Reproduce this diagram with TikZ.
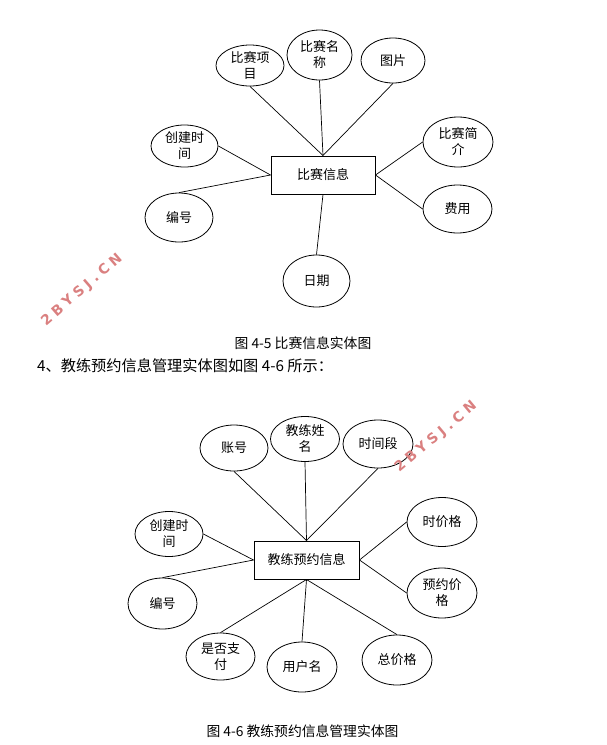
\documentclass[tikz,border=0pt]{standalone}
\usepackage{fontspec}
\newfontfamily\cjk{Noto Sans CJK SC}
\newfontfamily\wmfont[LetterSpace=30]{DejaVu Sans}
\usetikzlibrary{shapes.geometric}
\definecolor{wmred}{RGB}{218,128,128}
\tikzset{
 attr/.style={ellipse, draw=black, line width=.8pt, inner sep=0pt, align=center, font=\cjk\fontsize{13}{16}\selectfont},
 entity/.style={rectangle, draw=black, line width=1pt, minimum width=104pt, minimum height=38pt, font=\cjk\fontsize{13}{16}\selectfont},
 link/.style={black, line width=.7pt},
 wmark/.style={text=wmred, font=\wmfont\bfseries\fontsize{14}{14}\selectfont}
}
\begin{document}
\begin{tikzpicture}[x=1pt, y=-1pt]
\useasboundingbox (0,0) rectangle (607,745);
\node[entity] (info1) at (323,175) {比赛信息};
\foreach \n/\x/\y/\w/\h/\t in {xm/250/65.5/68/41/{比赛项\\目}, mc/319.5/55/65/50/{比赛名\\称}, tp/393/60.5/64/45/图片,
 cj1/184.5/146/67/42/{创建时\\间}, bh1/179/217.5/68/49/编号, jj/458/142/70/50/{比赛简\\介}, fy/457.5/209/69/48/费用, rq/316.5/281/67/52/日期}
 \node[attr, minimum width=\w pt, minimum height=\h pt] (\n) at (\x,\y) {\t};
\foreach \n/\a/\b in {xm/south/north, mc/south/north, tp/south/north, cj1/east/west, bh1/north/west, jj/west/east, fy/west/east, rq/north/south}
 \draw[link] (\n.\a) -- (info1.\b);
\node[font=\cjk\fontsize{13.8}{16}\selectfont] (cap1) at (303,343) {图 4-5 比赛信息实体图};
\node[anchor=west, inner sep=0pt, font=\cjk\fontsize{15.2}{18}\selectfont] (para) at (37,366) {4、教练预约信息管理实体图如图 4-6 所示：};
\node[entity, minimum width=105pt] (info2) at (306.5,560) {教练预约信息};
\foreach \n/\x/\y/\w/\h/\t in {zh/234/448/68/46/账号, jl/305/439/69/45/{教练姓\\名}, sjd/378/444/70/48/时间段,
 cj2/169/534/68/45/{创建时\\间}, bh2/162.5/603.5/69/51/编号, sjg/442/522/70/49/时价格, yy/442/593/70/50/{预约价\\格},
 zf/220.5/656.5/69/47/{是否支\\付}, yh/302/667/70/50/用户名, zj/397/660/70/50/总价格}
 \node[attr, minimum width=\w pt, minimum height=\h pt] (\n) at (\x,\y) {\t};
\foreach \n/\a/\b in {zh/south/north, jl/south/north, sjd/south/north, cj2/east/west, bh2/north/west,
 sjg/west/east, yy/west/east, zf/north/south, yh/north/south, zj/north/south}
 \draw[link] (\n.\a) -- (info2.\b);
\node[font=\cjk\fontsize{13.8}{16}\selectfont] (cap2) at (302.5,731) {图 4-6 教练预约信息管理实体图};
\node[wmark, rotate=41] (wm1) at (82,290) {2BYSJ.CN};
\node[wmark, rotate=40] (wm2) at (436,437) {2BYSJ.CN};
\end{tikzpicture}
\end{document}
